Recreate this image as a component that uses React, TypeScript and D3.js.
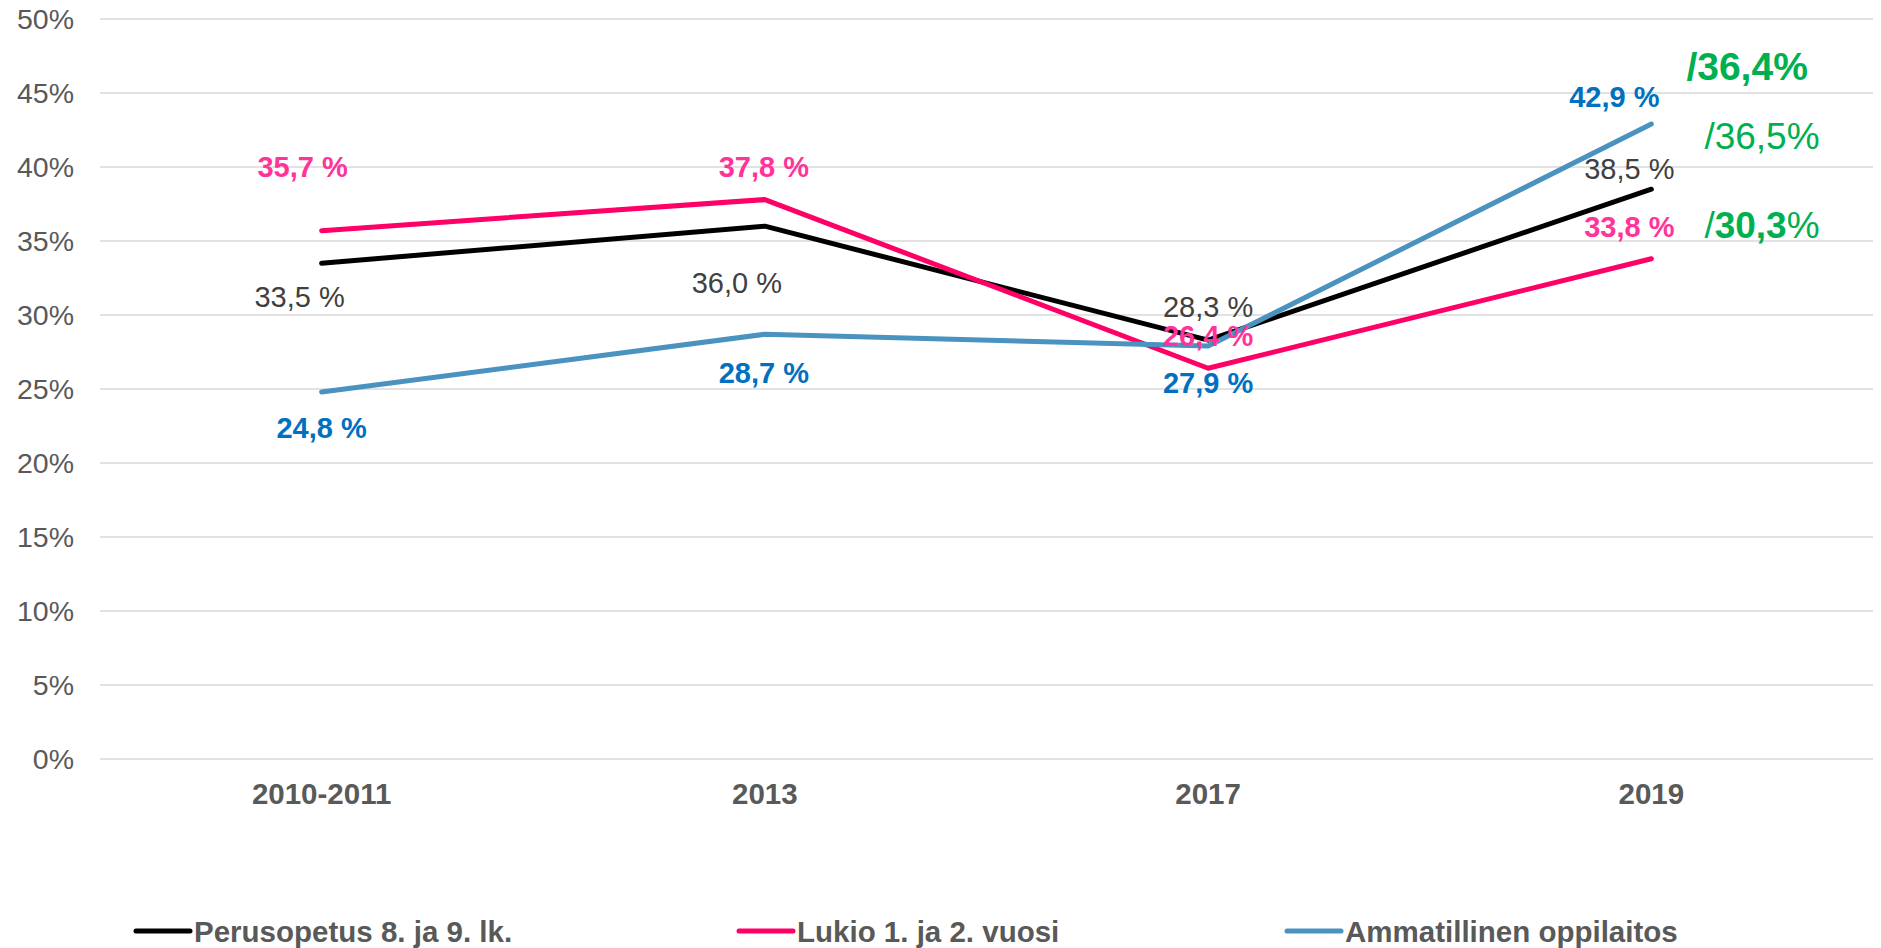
import React from "react";
import * as d3 from "d3";

const categories = ["2010-2011", "2013", "2017", "2019"];
const perusopetus = [33.5, 36.0, 28.3, 38.5];
const lukio = [35.7, 37.8, 26.4, 33.8];
const ammatillinen = [24.8, 28.7, 27.9, 42.9];
const yTicks = [0, 5, 10, 15, 20, 25, 30, 35, 40, 45, 50];
const seriesNames = ["Perusopetus 8. ja 9. lk.", "Lukio 1. ja 2. vuosi", "Ammatillinen oppilaitos"];
// comparison annotations at 2019
const compareValues = ["36,4", "36,5", "30,3"];

const W = 1881;
const H = 948;
const FONT = "'Liberation Sans', Arial, Helvetica, sans-serif";
const FS = 28.5;
const FSL = 29;
const FSX = 29.5;

const x = d3.scaleBand<string>().domain(categories).range([100, 1873]);
const y = d3.scaleLinear().domain([0, 50]).range([759, 19]);
const cx = (c: string) => (x(c) as number) + x.bandwidth() / 2;

const series = [
  { name: seriesNames[0], values: perusopetus, line: "#000000", label: "#404040", weight: "normal",
    off: [[-22, 33], [-28, 56], [0, -34], [-22, -21]] },
  { name: seriesNames[1], values: lukio, line: "#FF0066", label: "#FF3399", weight: "bold",
    off: [[-19, -64], [-1, -33], [0, -33], [-22, -32]] },
  { name: seriesNames[2], values: ammatillinen, line: "#4A93C0", label: "#0070C0", weight: "bold",
    off: [[0, 36], [-1, 38], [0, 37], [-37, -27]] },
];

const fmt = (v: number) => v.toFixed(1).replace(".", ",") + " %";
const base = (c: number, fs: number) => c + 0.358 * fs;

export default function App() {
  const lineGen = d3
    .line<number>()
    .x((_, i) => cx(categories[i]))
    .y((d) => y(d));

  const lastX = cx(categories[3]);
  const green = "#00B050";

  const legendX = [136, 739, 1287];
  const legendY = 931;

  return (
    <svg width={W} height={H} style={{ position: "absolute", left: 0, top: 0, background: "#fff" }} fontFamily={FONT}>
      {yTicks.map((t) => (
        <g key={t}>
          <line x1={100} x2={1873} y1={y(t)} y2={y(t)} stroke="#D9D9D9" strokeWidth={1.6} />
          <text x={74} y={base(y(t), FS)} textAnchor="end" fontSize={FS} fill="#595959">
            {t}%
          </text>
        </g>
      ))}
      {categories.map((c) => (
        <text key={c} x={cx(c)} y={base(793, FSX)} textAnchor="middle" fontSize={FSX} fontWeight="bold" fill="#595959">
          {c}
        </text>
      ))}
      {series.map((s) => (
        <path key={s.name} d={lineGen(s.values) || ""} fill="none" stroke={s.line} strokeWidth={5} strokeLinejoin="round" strokeLinecap="round" />
      ))}
      {series.map((s) =>
        s.values.map((v, i) => (
          <text
            key={s.name + i}
            x={cx(categories[i]) + s.off[i][0]}
            y={base(y(v) + s.off[i][1], FSL)}
            textAnchor="middle"
            fontSize={FSL}
            fontWeight={s.weight}
            fill={s.label}
          >
            {fmt(v)}
          </text>
        ))
      )}
      {/* comparison annotations */}
      <text x={lastX + 35} y={base(y(ammatillinen[3]) - 58, 38)} fontSize={39} fontWeight="bold" fill={green}>
        /{compareValues[0]}%
      </text>
      <text x={lastX + 53} y={base(y(perusopetus[3]) - 52, 34)} fontSize={37} fill={green}>
        /{compareValues[1]}%
      </text>
      <text x={lastX + 53} y={base(y(lukio[3]) - 33, 34)} fontSize={37} fill={green}>
        /<tspan fontWeight="bold">{compareValues[2]}</tspan>%
      </text>
      {series.map((s, i) => (
        <g key={"lg" + i}>
          <line x1={legendX[i]} x2={legendX[i] + 54} y1={legendY} y2={legendY} stroke={s.line} strokeWidth={5} strokeLinecap="round" />
          <text x={legendX[i] + 58} y={base(legendY, FSX)} fontSize={FSX} fontWeight="bold" fill="#595959">
            {s.name}
          </text>
        </g>
      ))}
    </svg>
  );
}
